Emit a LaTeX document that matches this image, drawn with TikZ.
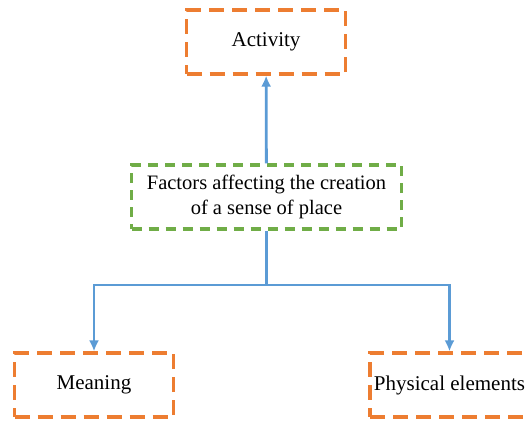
\documentclass[tikz,border=0pt]{standalone}
\usepackage{fontspec}
\setmainfont{Liberation Serif}
\usetikzlibrary{arrows.meta,positioning,calc}
\definecolor{boxorange}{HTML}{ED7D31}
\definecolor{boxgreen}{HTML}{70AD47}
\definecolor{linkblue}{HTML}{5B9BD5}
\tikzstyle{factor} = [rectangle, draw=boxorange, line width=3.2pt,
    dash pattern=on 15pt off 8pt, minimum width=159pt, minimum height=64pt,
    text centered, font=\fontsize{21}{25}\selectfont]
\tikzstyle{core} = [rectangle, draw=boxgreen, line width=3.2pt,
    dash pattern=on 10pt off 7pt, minimum width=270pt, minimum height=64pt,
    align=center, font=\fontsize{20.5}{25}\selectfont]
\tikzstyle{line} = [draw=linkblue, line width=2.8pt, -{Latex[length=11pt,width=10pt]}]

\begin{document}
\begin{tikzpicture}[x=1pt, y=-1pt]
\useasboundingbox (0,0) rectangle (526,421);
\clip (0,0) rectangle (526,421);
\node[core](factors) at (266.5,197){Factors affecting the creation\\of a sense of place};
\node[factor](activity) at (266,42){Activity};
\node[factor](meaning) at (94,385){Meaning};
\node[factor](physical) at (449.5,385){Physical elements};
\coordinate (branch) at (factors.south |- 0,285);
\path(factors)edge[line](activity);
\draw[line](factors.south) -- (branch) -| (meaning.north);
\draw[line](branch) -| (physical.north);
\end{tikzpicture}
\end{document}
